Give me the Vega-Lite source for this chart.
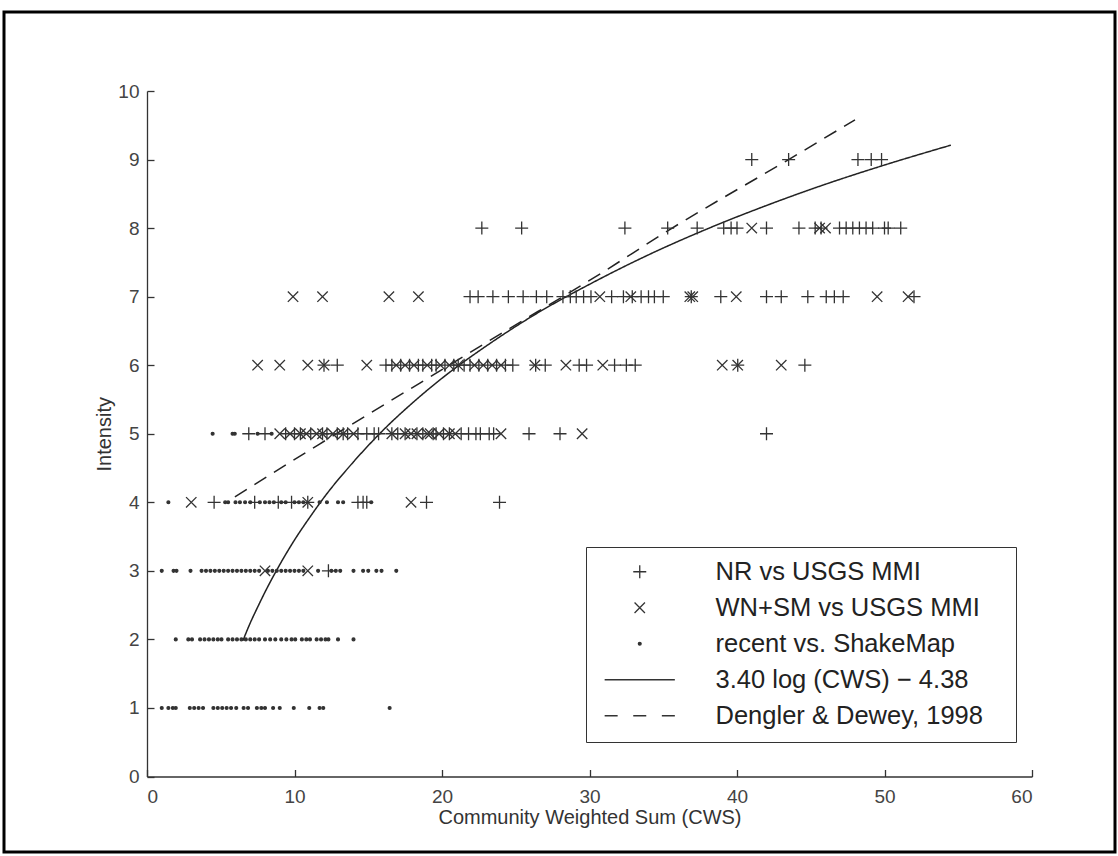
{
"$schema": "https://vega.github.io/schema/vega-lite/v6.json",
"width": 1111, "height": 840,
"autosize": {"type": "none"},
"padding": {"left": 4, "top": 12, "right": 3, "bottom": 4},
"background": "white",
"config": {
  "view": {"stroke": "#000", "strokeWidth": 3},
  "axis": {"domainColor": "#333", "domainWidth": 1.3, "tickColor": "#333", "tickWidth": 1.3, "tickSize": -7, "labelColor": "#444", "labelFont": "Liberation Sans", "labelFontSize": 19, "titleFont": "Liberation Sans", "titleFontSize": 20, "titleFontWeight": "normal", "titleColor": "#333", "grid": false}
},
"datasets": {
"pts": [
{"s":"p","cws":41.0,"i":9},{"s":"p","cws":43.5,"i":9},{"s":"p","cws":48.2,"i":9},{"s":"p","cws":49.1,"i":9},{"s":"p","cws":49.8,"i":9},
{"s":"p","cws":22.7,"i":8},{"s":"p","cws":25.4,"i":8},{"s":"p","cws":32.4,"i":8},{"s":"p","cws":35.3,"i":8},{"s":"p","cws":37.3,"i":8},{"s":"p","cws":39.1,"i":8},{"s":"p","cws":39.6,"i":8},{"s":"p","cws":40.0,"i":8},{"s":"p","cws":42.0,"i":8},{"s":"p","cws":44.2,"i":8},{"s":"p","cws":45.3,"i":8},{"s":"p","cws":45.7,"i":8},{"s":"p","cws":46.95,"i":8},{"s":"p","cws":47.4,"i":8},{"s":"p","cws":47.85,"i":8},{"s":"p","cws":48.3,"i":8},{"s":"p","cws":48.75,"i":8},{"s":"p","cws":49.2,"i":8},{"s":"p","cws":50.0,"i":8},{"s":"p","cws":50.25,"i":8},{"s":"p","cws":51.1,"i":8},
{"s":"x","cws":41.0,"i":8},{"s":"x","cws":45.6,"i":8},{"s":"x","cws":46.0,"i":8},
{"s":"x","cws":9.9,"i":7},{"s":"x","cws":11.9,"i":7},{"s":"x","cws":16.4,"i":7},{"s":"x","cws":18.4,"i":7},{"s":"x","cws":30.7,"i":7},{"s":"x","cws":32.8,"i":7},{"s":"x","cws":36.8,"i":7},{"s":"x","cws":37.0,"i":7},{"s":"x","cws":39.95,"i":7},{"s":"x","cws":49.5,"i":7},{"s":"x","cws":51.6,"i":7},
{"s":"p","cws":21.9,"i":7},{"s":"p","cws":22.45,"i":7},{"s":"p","cws":23.45,"i":7},{"s":"p","cws":24.5,"i":7},{"s":"p","cws":25.5,"i":7},{"s":"p","cws":26.4,"i":7},{"s":"p","cws":27.1,"i":7},{"s":"p","cws":28.2,"i":7},{"s":"p","cws":28.7,"i":7},{"s":"p","cws":29.1,"i":7},{"s":"p","cws":29.6,"i":7},{"s":"p","cws":30.1,"i":7},{"s":"p","cws":31.5,"i":7},{"s":"p","cws":32.3,"i":7},{"s":"p","cws":32.9,"i":7},{"s":"p","cws":33.5,"i":7},{"s":"p","cws":34.0,"i":7},{"s":"p","cws":34.4,"i":7},{"s":"p","cws":35.0,"i":7},{"s":"p","cws":36.9,"i":7},{"s":"p","cws":38.9,"i":7},{"s":"p","cws":42.0,"i":7},{"s":"p","cws":43.0,"i":7},{"s":"p","cws":44.8,"i":7},{"s":"p","cws":46.05,"i":7},{"s":"p","cws":46.6,"i":7},{"s":"p","cws":47.2,"i":7},{"s":"p","cws":52.0,"i":7},
{"s":"x","cws":7.5,"i":6},{"s":"x","cws":9.0,"i":6},{"s":"x","cws":10.9,"i":6},{"s":"x","cws":12.0,"i":6},{"s":"x","cws":14.9,"i":6},{"s":"x","cws":16.9,"i":6},{"s":"x","cws":17.5,"i":6},{"s":"x","cws":18.1,"i":6},{"s":"x","cws":19.0,"i":6},{"s":"x","cws":19.9,"i":6},{"s":"x","cws":20.5,"i":6},{"s":"x","cws":21.1,"i":6},{"s":"x","cws":22.2,"i":6},{"s":"x","cws":22.8,"i":6},{"s":"x","cws":23.4,"i":6},{"s":"x","cws":24.0,"i":6},{"s":"x","cws":26.3,"i":6},{"s":"x","cws":28.4,"i":6},{"s":"x","cws":30.9,"i":6},{"s":"x","cws":39.0,"i":6},{"s":"x","cws":40.05,"i":6},{"s":"x","cws":43.0,"i":6},
{"s":"p","cws":12.0,"i":6},{"s":"p","cws":12.9,"i":6},{"s":"p","cws":16.2,"i":6},{"s":"p","cws":16.6,"i":6},{"s":"p","cws":17.2,"i":6},{"s":"p","cws":17.8,"i":6},{"s":"p","cws":18.4,"i":6},{"s":"p","cws":18.7,"i":6},{"s":"p","cws":19.3,"i":6},{"s":"p","cws":19.6,"i":6},{"s":"p","cws":20.2,"i":6},{"s":"p","cws":20.8,"i":6},{"s":"p","cws":21.1,"i":6},{"s":"p","cws":21.5,"i":6},{"s":"p","cws":21.9,"i":6},{"s":"p","cws":22.5,"i":6},{"s":"p","cws":23.1,"i":6},{"s":"p","cws":23.7,"i":6},{"s":"p","cws":24.3,"i":6},{"s":"p","cws":24.8,"i":6},{"s":"p","cws":26.35,"i":6},{"s":"p","cws":27.0,"i":6},{"s":"p","cws":29.3,"i":6},{"s":"p","cws":29.8,"i":6},{"s":"p","cws":31.7,"i":6},{"s":"p","cws":32.5,"i":6},{"s":"p","cws":33.1,"i":6},{"s":"p","cws":40.05,"i":6},{"s":"p","cws":44.6,"i":6},
{"s":"p","cws":6.9,"i":5},{"s":"p","cws":8.0,"i":5},{"s":"p","cws":9.4,"i":5},{"s":"p","cws":10.0,"i":5},{"s":"p","cws":10.4,"i":5},{"s":"p","cws":11.1,"i":5},{"s":"p","cws":11.9,"i":5},{"s":"p","cws":12.2,"i":5},{"s":"p","cws":12.9,"i":5},{"s":"p","cws":13.3,"i":5},{"s":"p","cws":13.6,"i":5},{"s":"p","cws":14.3,"i":5},{"s":"p","cws":14.9,"i":5},{"s":"p","cws":15.4,"i":5},{"s":"p","cws":15.7,"i":5},{"s":"p","cws":16.6,"i":5},{"s":"p","cws":17.0,"i":5},{"s":"p","cws":17.5,"i":5},{"s":"p","cws":18.3,"i":5},{"s":"p","cws":18.7,"i":5},{"s":"p","cws":19.4,"i":5},{"s":"p","cws":19.6,"i":5},{"s":"p","cws":20.1,"i":5},{"s":"p","cws":20.5,"i":5},{"s":"p","cws":21.3,"i":5},{"s":"p","cws":21.8,"i":5},{"s":"p","cws":22.3,"i":5},{"s":"p","cws":22.6,"i":5},{"s":"p","cws":23.2,"i":5},{"s":"p","cws":23.5,"i":5},{"s":"p","cws":25.9,"i":5},{"s":"p","cws":28.0,"i":5},{"s":"p","cws":42.0,"i":5},
{"s":"x","cws":9.0,"i":5},{"s":"x","cws":9.7,"i":5},{"s":"x","cws":10.4,"i":5},{"s":"x","cws":10.8,"i":5},{"s":"x","cws":11.5,"i":5},{"s":"x","cws":11.9,"i":5},{"s":"x","cws":12.6,"i":5},{"s":"x","cws":13.3,"i":5},{"s":"x","cws":14.0,"i":5},{"s":"x","cws":16.6,"i":5},{"s":"x","cws":17.5,"i":5},{"s":"x","cws":17.9,"i":5},{"s":"x","cws":18.3,"i":5},{"s":"x","cws":19.0,"i":5},{"s":"x","cws":19.2,"i":5},{"s":"x","cws":19.8,"i":5},{"s":"x","cws":20.5,"i":5},{"s":"x","cws":20.9,"i":5},{"s":"x","cws":24.0,"i":5},{"s":"x","cws":29.5,"i":5},
{"s":"d","cws":4.45,"i":5},{"s":"d","cws":5.8,"i":5},{"s":"d","cws":5.95,"i":5},{"s":"d","cws":7.5,"i":5},{"s":"d","cws":8.45,"i":5},
{"s":"p","cws":4.55,"i":4},{"s":"p","cws":7.3,"i":4},{"s":"p","cws":8.9,"i":4},{"s":"p","cws":9.8,"i":4},{"s":"p","cws":10.9,"i":4},{"s":"p","cws":14.3,"i":4},{"s":"p","cws":14.65,"i":4},{"s":"p","cws":14.9,"i":4},{"s":"p","cws":18.95,"i":4},{"s":"p","cws":23.9,"i":4},
{"s":"x","cws":3.0,"i":4},{"s":"x","cws":10.9,"i":4},{"s":"x","cws":17.9,"i":4},
{"s":"d","cws":1.45,"i":4},{"s":"d","cws":5.3,"i":4},{"s":"d","cws":5.5,"i":4},{"s":"d","cws":6.0,"i":4},{"s":"d","cws":6.3,"i":4},{"s":"d","cws":6.65,"i":4},{"s":"d","cws":7.0,"i":4},{"s":"d","cws":7.65,"i":4},{"s":"d","cws":8.0,"i":4},{"s":"d","cws":8.3,"i":4},{"s":"d","cws":8.6,"i":4},{"s":"d","cws":9.1,"i":4},{"s":"d","cws":9.4,"i":4},{"s":"d","cws":10.0,"i":4},{"s":"d","cws":10.3,"i":4},{"s":"d","cws":10.6,"i":4},{"s":"d","cws":11.7,"i":4},{"s":"d","cws":12.2,"i":4},{"s":"d","cws":12.95,"i":4},{"s":"d","cws":13.3,"i":4},{"s":"d","cws":15.2,"i":4},
{"s":"d","cws":1.0,"i":3},{"s":"d","cws":1.8,"i":3},{"s":"d","cws":2.0,"i":3},{"s":"d","cws":2.95,"i":3},{"s":"d","cws":3.7,"i":3},{"s":"d","cws":4.0,"i":3},{"s":"d","cws":4.3,"i":3},{"s":"d","cws":4.6,"i":3},{"s":"d","cws":4.9,"i":3},{"s":"d","cws":5.2,"i":3},{"s":"d","cws":5.5,"i":3},{"s":"d","cws":5.8,"i":3},{"s":"d","cws":6.1,"i":3},{"s":"d","cws":6.4,"i":3},{"s":"d","cws":6.7,"i":3},{"s":"d","cws":7.0,"i":3},{"s":"d","cws":7.3,"i":3},{"s":"d","cws":7.6,"i":3},{"s":"d","cws":8.2,"i":3},{"s":"d","cws":8.5,"i":3},{"s":"d","cws":8.8,"i":3},{"s":"d","cws":9.1,"i":3},{"s":"d","cws":9.4,"i":3},{"s":"d","cws":9.7,"i":3},{"s":"d","cws":10.0,"i":3},{"s":"d","cws":10.3,"i":3},{"s":"d","cws":10.6,"i":3},{"s":"d","cws":11.6,"i":3},{"s":"d","cws":12.5,"i":3},{"s":"d","cws":12.8,"i":3},{"s":"d","cws":13.1,"i":3},{"s":"d","cws":14.0,"i":3},{"s":"d","cws":14.65,"i":3},{"s":"d","cws":15.0,"i":3},{"s":"d","cws":15.55,"i":3},{"s":"d","cws":15.9,"i":3},{"s":"d","cws":16.9,"i":3},
{"s":"x","cws":8.0,"i":3},{"s":"x","cws":10.9,"i":3},{"s":"p","cws":12.3,"i":3},
{"s":"d","cws":1.95,"i":2},{"s":"d","cws":2.8,"i":2},{"s":"d","cws":3.05,"i":2},{"s":"d","cws":3.6,"i":2},{"s":"d","cws":3.9,"i":2},{"s":"d","cws":4.2,"i":2},{"s":"d","cws":4.5,"i":2},{"s":"d","cws":4.8,"i":2},{"s":"d","cws":5.05,"i":2},{"s":"d","cws":5.5,"i":2},{"s":"d","cws":5.8,"i":2},{"s":"d","cws":6.1,"i":2},{"s":"d","cws":6.4,"i":2},{"s":"d","cws":6.7,"i":2},{"s":"d","cws":7.0,"i":2},{"s":"d","cws":7.3,"i":2},{"s":"d","cws":7.6,"i":2},{"s":"d","cws":8.0,"i":2},{"s":"d","cws":8.35,"i":2},{"s":"d","cws":8.7,"i":2},{"s":"d","cws":9.1,"i":2},{"s":"d","cws":9.45,"i":2},{"s":"d","cws":9.8,"i":2},{"s":"d","cws":10.05,"i":2},{"s":"d","cws":10.5,"i":2},{"s":"d","cws":10.8,"i":2},{"s":"d","cws":11.05,"i":2},{"s":"d","cws":11.5,"i":2},{"s":"d","cws":11.8,"i":2},{"s":"d","cws":12.1,"i":2},{"s":"d","cws":12.3,"i":2},{"s":"d","cws":12.95,"i":2},{"s":"d","cws":14.0,"i":2},
{"s":"d","cws":1.0,"i":1},{"s":"d","cws":1.45,"i":1},{"s":"d","cws":1.75,"i":1},{"s":"d","cws":1.95,"i":1},{"s":"d","cws":2.9,"i":1},{"s":"d","cws":3.2,"i":1},{"s":"d","cws":3.5,"i":1},{"s":"d","cws":3.8,"i":1},{"s":"d","cws":4.5,"i":1},{"s":"d","cws":4.8,"i":1},{"s":"d","cws":5.1,"i":1},{"s":"d","cws":5.4,"i":1},{"s":"d","cws":5.7,"i":1},{"s":"d","cws":6.05,"i":1},{"s":"d","cws":6.55,"i":1},{"s":"d","cws":6.85,"i":1},{"s":"d","cws":7.45,"i":1},{"s":"d","cws":7.75,"i":1},{"s":"d","cws":8.0,"i":1},{"s":"d","cws":8.55,"i":1},{"s":"d","cws":9.0,"i":1},{"s":"d","cws":9.95,"i":1},{"s":"d","cws":11.0,"i":1},{"s":"d","cws":11.7,"i":1},{"s":"d","cws":11.95,"i":1},{"s":"d","cws":16.45,"i":1}
],
"curves": [
{"s":"fit","cws":6.5,"i":1.98},{"s":"fit","cws":7,"i":2.24},{"s":"fit","cws":7.5,"i":2.47},{"s":"fit","cws":8,"i":2.69},{"s":"fit","cws":9,"i":3.09},{"s":"fit","cws":10,"i":3.45},{"s":"fit","cws":11,"i":3.77},{"s":"fit","cws":12,"i":4.07},{"s":"fit","cws":14,"i":4.59},{"s":"fit","cws":16,"i":5.05},{"s":"fit","cws":18,"i":5.45},{"s":"fit","cws":20,"i":5.81},{"s":"fit","cws":23,"i":6.28},{"s":"fit","cws":26,"i":6.70},{"s":"fit","cws":30,"i":7.18},{"s":"fit","cws":34,"i":7.61},{"s":"fit","cws":38,"i":7.99},{"s":"fit","cws":42,"i":8.33},{"s":"fit","cws":46,"i":8.64},{"s":"fit","cws":50,"i":8.92},{"s":"fit","cws":54.5,"i":9.21},
{"s":"dd","cws":5.96,"i":4.08},{"s":"dd","cws":11.7,"i":4.85},{"s":"dd","cws":18.5,"i":5.74},{"s":"dd","cws":24.0,"i":6.46},{"s":"dd","cws":30.7,"i":7.33},{"s":"dd","cws":35.3,"i":7.96},{"s":"dd","cws":43.5,"i":9.0},{"s":"dd","cws":48.0,"i":9.58}
]
},
"layer": [
{
  "data": {"name": "curves"},
  "mark": {"type": "line", "color": "#222", "strokeWidth": 1.5, "interpolate": "monotone"},
  "encoding": {
    "x": {"field": "cws", "type": "quantitative", "scale": {"domain": [0, 60], "nice": false, "range": [143, 1028]}, "axis": {"values": [0,10,20,30,40,50,60], "title": "Community Weighted Sum (CWS)", "labelPadding": 18, "titlePadding": 1, "offset": -75.5}},
    "y": {"field": "i", "type": "quantitative", "scale": {"domain": [0, 10], "nice": false, "range": [764.5, 79]}, "axis": {"values": [0,1,2,3,4,5,6,7,8,9,10], "format": "d", "title": "Intensity", "labelPadding": 15, "titlePadding": 3, "offset": -143}},
    "detail": {"field": "s"},
    "strokeDash": {"field": "s", "type": "nominal", "scale": {"domain": ["fit", "dd"], "range": [[1, 0], [14, 9]]}, "legend": null}
  }
},
{
  "data": {"name": "pts"},
  "mark": {"type": "point", "fill": "#333", "stroke": "#333", "strokeWidth": 1.3, "opacity": 1},
  "encoding": {
    "x": {"field": "cws", "type": "quantitative"},
    "y": {"field": "i", "type": "quantitative"},
    "shape": {"field": "s", "type": "nominal",
      "scale": {"domain": ["p", "x", "d", "fit", "dd"], "range": ["M-1,0L1,0M0,-1L0,1", "M-0.8,-0.8L0.8,0.8M-0.8,0.8L0.8,-0.8", "circle", "M-5.4,0L5.4,0M55.5,0", "M-5.4,0L-3.4,0M-1,0L1,0M3.4,0L5.4,0"]},
      "legend": {"title": null, "orient": "none", "legendX": 582, "legendY": 535, "strokeColor": "#333", "fillColor": "white", "padding": 12, "rowPadding": 9, "symbolOffset": 29, "labelOffset": 63, "labelFont": "Liberation Sans", "labelFontSize": 25.5, "labelColor": "#222", "labelLimit": 600, "symbolStrokeWidth": 1.3, "symbolStrokeColor": "#333", "symbolFillColor": "#333",
        "labelExpr": "{'p': 'NR vs USGS MMI', 'x': 'WN+SM vs USGS MMI', 'd': 'recent vs. ShakeMap', 'fit': '3.40 log (CWS) − 4.38', 'dd': 'Dengler & Dewey, 1998'}[datum.label]"}},
    "size": {"field": "s", "type": "nominal",
      "scale": {"type": "ordinal", "domain": ["p", "x", "d", "fit", "dd"], "range": [169, 169, 8, 169, 169]},
      "legend": {"title": null, "orient": "none", "legendX": 582, "legendY": 535}}
  }
}
]
}
